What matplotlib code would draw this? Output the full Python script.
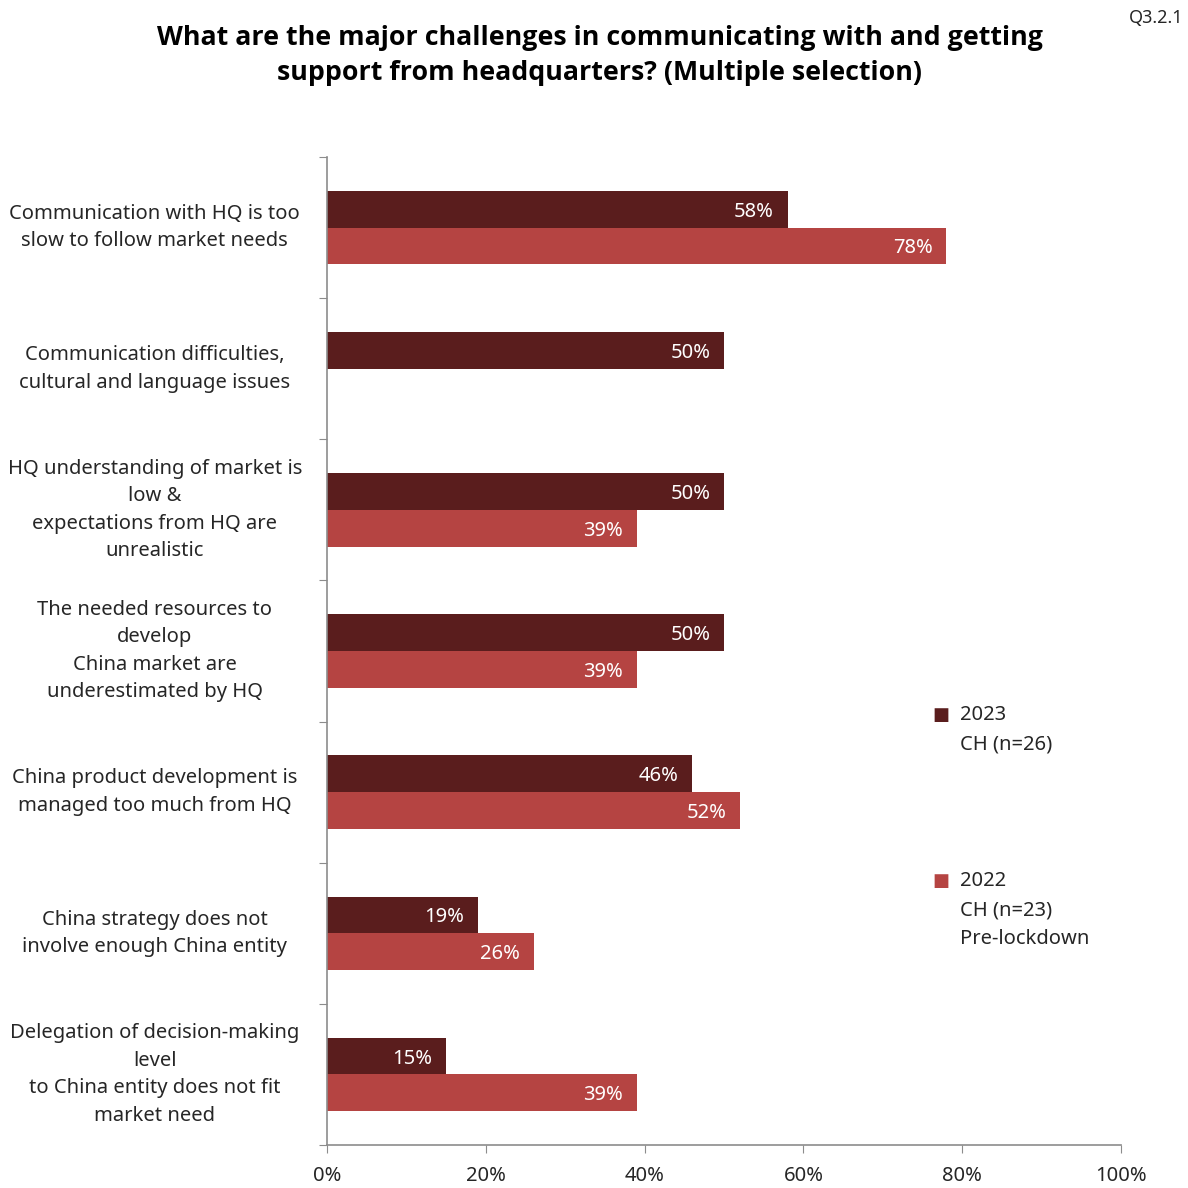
import numpy as np
import matplotlib
matplotlib.use("Agg")
import matplotlib.pyplot as plt

plt.rcParams['font.family'] = ['Noto Sans', 'DejaVu Sans']

categories = [
    "Communication with HQ is too\nslow to follow market needs",
    "Communication difficulties,\ncultural and language issues",
    "HQ understanding of market is\nlow &\nexpectations from HQ are\nunrealistic",
    "The needed resources to\ndevelop\nChina market are\nunderestimated by HQ",
    "China product development is\nmanaged too much from HQ",
    "China strategy does not\ninvolve enough China entity",
    "Delegation of decision-making\nlevel\nto China entity does not fit\nmarket need",
]
values_2023 = [58, 50, 50, 50, 46, 19, 15]
values_2022 = [78, np.nan, 39, 39, 52, 26, 39]
series_labels = ["2023\nCH (n=26)", "2022\nCH (n=23)\nPre-lockdown"]
xtick_values = [0, 20, 40, 60, 80, 100]

c2023 = "#5a1d1d"
c2022 = "#b54442"
axis_gray = "#8c8c8c"
text_col = "#262626"

fig = plt.figure(figsize=(11.88, 11.88), dpi=100)
ax = fig.add_axes([0.2753, 0.0362, 0.6684, 0.8316])

y = np.arange(len(categories))
h = 0.26
b1 = ax.barh(y - h / 2, values_2023, height=h, color=c2023)
b2 = ax.barh(y + h / 2, values_2022, height=h, color=c2022)

for bars, vals in ((b1, values_2023), (b2, values_2022)):
    for rect, v in zip(bars, vals):
        if np.isnan(v):
            continue
        ax.annotate(f"{v:.0f}%", xy=(v, rect.get_y() + rect.get_height() / 2),
                    xytext=(-10, 0), textcoords="offset points",
                    ha="right", va="center_baseline", color="white", fontsize=14.5)

ax.set_xlim(0, 100)
ax.set_ylim(len(categories) - 0.5, -0.5)

ax.set_xticks(xtick_values)
ax.set_xticklabels([f"{v}%" for v in xtick_values], fontsize=14.5, color=text_col)
ax.tick_params(axis="x", direction="out", length=6, color=axis_gray, pad=9)

ax.set_yticks(np.arange(len(categories) + 1) - 0.5)
ax.set_yticklabels([])
ax.tick_params(axis="y", which="major", direction="out", length=6, color=axis_gray)
ax.set_yticks(y, minor=True)
ax.set_yticklabels(categories, minor=True, fontsize=14.5, color=text_col,
                   ha="center", va="center", linespacing=1.5)
ax.tick_params(axis="y", which="minor", length=0, pad=124)

for s in ("top", "right"):
    ax.spines[s].set_visible(False)
for s in ("left", "bottom"):
    ax.spines[s].set_color(axis_gray)
    ax.spines[s].set_linewidth(1.2)

fig.text(0.505, 0.953,
         "What are the major challenges in communicating with and getting\nsupport from headquarters? (Multiple selection)",
         ha="center", va="center", fontsize=19.3, fontweight="bold",
         family=["Open Sans", "DejaVu Sans"],
         color="black", linespacing=1.45)
fig.text(0.973, 0.985, "Q3.2.1", ha="center", va="center", fontsize=13, color=text_col)

# legend
line_step = 29 / 1188
for lab, col, ytop in ((series_labels[0], c2023, 1 - 713 / 1188), (series_labels[1], c2022, 1 - 879 / 1188)):
    fig.text(0.792, ytop, "■", color=col, fontsize=13, va="center_baseline", ha="center",
             family=["DejaVu Sans"])
    for i, line in enumerate(lab.split("\n")):
        fig.text(0.808, ytop - i * line_step, line, fontsize=14.5, color=text_col,
                 va="center_baseline", ha="left")

fig.savefig("out.png", dpi=100)
